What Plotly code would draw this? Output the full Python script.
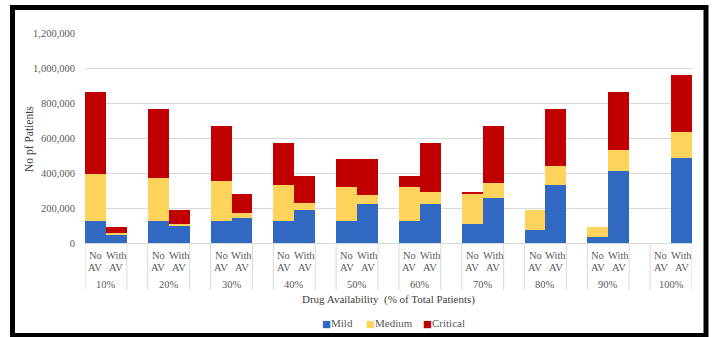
import plotly.graph_objects as go

# Drug availability levels (outer category) and per-level bar labels (inner category)
levels = ["10%", "20%", "30%", "40%", "50%", "60%", "70%", "80%", "90%", "100%"]
bar_kinds = ["No<br>AV", "With<br>AV"]

# Patients without antivirals, by severity
mild_no = [126000, 126000, 126000, 126000, 126000, 126000, 110000, 73000, 36000, 0]
medium_no = [268000, 248000, 229000, 206000, 196000, 196000, 172000, 115000, 56000, 0]
critical_no = [469000, 392000, 314000, 241000, 158000, 61000, 8000, 0, 0, 0]

# Patients with antivirals, by severity
mild_with = [51000, 95000, 141000, 189000, 223000, 223000, 256000, 331000, 410000, 488000]
medium_with = [6000, 15000, 29000, 41000, 52000, 67000, 86000, 107000, 121000, 144000]
critical_with = [36000, 79000, 112000, 153000, 205000, 283000, 327000, 328000, 332000, 328000]

series = [
    ("Mild", mild_no, mild_with, "#3068C2"),
    ("Medium", medium_no, medium_with, "#FDD35C"),
    ("Critical", critical_no, critical_with, "#C00000"),
]

W, H = 712, 337
ML, MR, MT, MB = 85, 20, 33, 94
PW, PH = W - ML - MR, H - MT - MB


def px_x(px):
    return (px - ML) / PW


def px_y(py):
    return (H - MB - py) / PH


# Each level occupies three slots: "No AV", "With AV", then an empty spacer
slot = 3
x_pos = []
for i in range(len(levels)):
    x_pos += [slot * i, slot * i + 1]

fig = go.Figure()
for name, no_vals, with_vals, color in series:
    y_vals = []
    for a, b in zip(no_vals, with_vals):
        y_vals += [a, b]
    fig.add_trace(go.Bar(
        x=x_pos, y=y_vals, name=name, width=1, showlegend=False,
        marker=dict(color=color, line=dict(width=0)),
    ))

serif = "Liberation Serif, Times New Roman, serif"
grey = "#595959"
grid = "#D9D9D9"

annotations = []
shapes = []
for i, lvl in enumerate(levels):
    for j, kind in enumerate(bar_kinds):
        for k, line in enumerate(kind.split("<br>")):
            annotations.append(dict(
                x=slot * i + j, xref="x", y=px_y(255 + 12 * k), yref="paper",
                text=line, showarrow=False, xanchor="center", yanchor="middle",
                font=dict(family=serif, size=10.5, color=grey),
            ))
    annotations.append(dict(
        x=slot * i + 0.5, xref="x", y=px_y(284), yref="paper",
        text=lvl, showarrow=False, xanchor="center", yanchor="middle",
        font=dict(family=serif, size=10.5, color=grey),
    ))
    for edge in (slot * i - 0.5, slot * i + 1.5):
        shapes.append(dict(
            type="line", xref="x", yref="paper",
            x0=edge, x1=edge, y0=0, y1=px_y(290),
            line=dict(color=grid, width=1),
        ))

# Axis titles
annotations.append(dict(
    x=px_x(388), xref="paper", y=px_y(299), yref="paper",
    text="Drug Availability  (% of Total Patients)", showarrow=False,
    xanchor="center", yanchor="middle",
    font=dict(family=serif, size=11, color="#404040"),
))
annotations.append(dict(
    x=px_x(29), xref="paper", y=px_y(139), yref="paper",
    text="No pf Patients", showarrow=False, textangle=-90,
    xanchor="center", yanchor="middle",
    font=dict(family=serif, size=11.5, color="#404040"),
))

# Compact legend: colored square followed by the series name
for (name, _, _, color), left in zip(series, (320, 364, 421)):
    annotations.append(dict(
        x=px_x(left), xref="paper", y=px_y(323), yref="paper",
        text=f'<span style="color:{color};font-family:DejaVu Sans;font-size:9.5px">■</span>{name}',
        showarrow=False, xanchor="left", yanchor="middle",
        font=dict(family=serif, size=11, color=grey),
    ))

# Outer frame
shapes.append(dict(
    type="rect", xref="paper", yref="paper",
    x0=px_x(12.5), x1=px_x(706), y0=px_y(7.5), y1=px_y(335.5),
    line=dict(color="black", width=5), fillcolor="rgba(0,0,0,0)",
))

fig.update_layout(
    width=W, height=H, autosize=False,
    margin=dict(l=ML, r=MR, t=MT, b=MB, autoexpand=False),
    paper_bgcolor="white", plot_bgcolor="white",
    barmode="stack", bargap=0,
    font=dict(family=serif, color=grey),
    xaxis=dict(
        range=[-0.5, slot * len(levels) - 1.5],
        showticklabels=False, showgrid=False, zeroline=False,
        showline=True, linecolor=grid, linewidth=1, ticks="",
    ),
    yaxis=dict(
        range=[0, 1200000], dtick=200000, tickformat=",",
        showgrid=True, gridcolor=grid, gridwidth=1, zeroline=False,
        showline=False, ticks="", ticklabelstandoff=9,
        tickfont=dict(family=serif, size=10.5, color=grey),
    ),
    annotations=annotations,
    shapes=shapes,
)

fig.write_html("out.html")
